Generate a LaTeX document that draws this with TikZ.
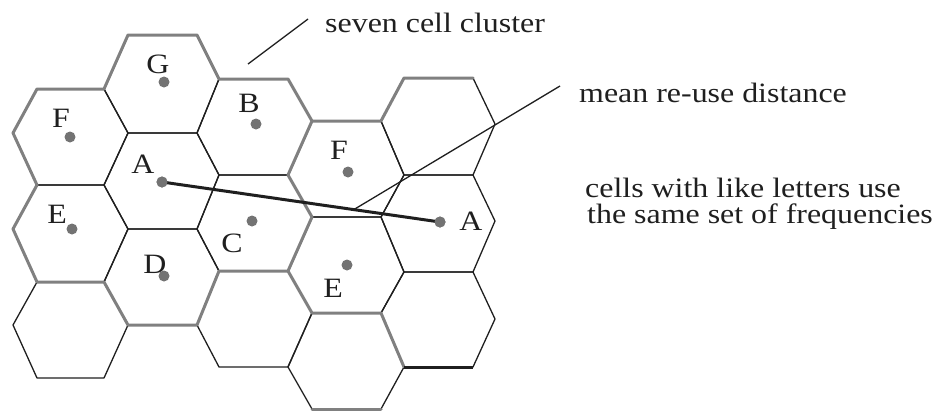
\documentclass[tikz,border=0pt]{standalone}
\usepackage{fontspec}
\setmainfont{Liberation Serif}
\usetikzlibrary{calc}
\begin{document}
\begin{tikzpicture}[x=1pt,y=-1pt,
  cell/.style={draw=black!88, line width=1.3pt, line join=round},
  rim/.style={draw=black!50, line width=3pt, line join=round, line cap=round},
  dotmark/.style={circle, fill=black!55, draw=none, inner sep=0pt, minimum size=11pt},
  lbl/.style={font=\fontsize{28}{30}\selectfont, text=black!88, inner sep=0pt, anchor=base},
  txt/.style={font=\fontsize{28}{30}\selectfont, text=black!88, inner sep=0pt, anchor=base west},
  ptr/.style={draw=black!88, line width=1.3pt},
  dist/.style={draw=black!88, line width=3pt, line cap=round}]
\useasboundingbox (0,0) rectangle (936,410);

% ---- cells (black outlines) ----
\draw[cell] (37,89)--(104,89)--(128,133)--(104,185)--(37,185)--(13,133)--cycle;
\draw[cell] (37,185)--(104,185)--(128,229)--(104,282)--(37,282)--(13,229)--cycle;
\draw[cell] (37,282)--(104,282)--(128,325)--(104,378)--(37,378)--(13,325)--cycle;
\draw[cell] (128,35)--(197,35)--(219,79)--(197,133)--(128,133)--(104,89)--cycle;
\draw[cell] (128,133)--(197,133)--(219,175)--(197,229)--(128,229)--(104,185)--cycle;
\draw[cell] (128,229)--(197,229)--(219,271)--(197,325)--(128,325)--(104,282)--cycle;
\draw[cell] (219,79)--(288,79)--(312,121)--(288,175)--(219,175)--(197,133)--cycle;
\draw[cell] (219,175)--(288,175)--(312,217)--(288,271)--(219,271)--(197,229)--cycle;
\draw[cell] (219,271)--(288,271)--(312,313)--(288,367)--(219,367)--(197,325)--cycle;
\draw[cell] (312,121)--(381,121)--(404,175)--(381,217)--(312,217)--(288,175)--cycle;
\draw[cell] (312,217)--(381,217)--(404,272)--(381,313)--(312,313)--(288,271)--cycle;
\draw[cell] (312,313)--(381,313)--(404,367)--(381,409)--(312,409)--(288,367)--cycle;
\draw[cell] (404,78)--(473,78)--(495,124)--(473,175)--(404,175)--(381,121)--cycle;
\draw[cell] (404,175)--(473,175)--(495,221)--(473,272)--(404,272)--(381,217)--cycle;
\draw[cell] (404,272)--(473,272)--(495,319)--(473,367)--(404,367)--(381,313)--cycle;

% ---- cluster outlines (grey) ----
\draw[rim] (13,133)--(37,89)--(104,89)--(128,35)--(197,35)--(219,79)--(288,79)--(312,121)
  --(288,175)--(312,217)--(288,271)--(219,271)--(197,325)--(128,325)--(104,282)--(37,282)
  --(13,229)--(37,185)--cycle;
\draw[rim] (312,121)--(381,121)--(404,78)--(473,78);
\draw[rim] (288,271)--(312,313)--(381,313)--(404,367);
\draw[rim] (312,409)--(381,409);
\draw[draw=black!88, line width=3pt] (404,367)--(473,367);

% ---- re-use distance ----
\node[dotmark] (dA1) at (162,182) {};
\node[dotmark] (dA2) at (440,222) {};
\draw[dist] (dA1.center)--(dA2.center);
\node[dotmark] at (dA1) {};
\node[dotmark] at (dA2) {};

% ---- other centre dots ----
\node[dotmark] (dG)  at (164,82)  {};
\node[dotmark] (dF1) at (70,137)  {};
\node[dotmark] (dB)  at (256,124) {};
\node[dotmark] (dE1) at (72,229)  {};
\node[dotmark] (dD)  at (164,276) {};
\node[dotmark] (dC)  at (252,221) {};
\node[dotmark] (dF2) at (348,172) {};
\node[dotmark] (dE2) at (347,265) {};

% ---- cell letters ----
\node[lbl] (lG)  at (158,73)  {\scalebox{1.14}[1]{G}};
\node[lbl] (lF1) at (61,127)  {\scalebox{1.14}[1]{F}};
\node[lbl] (lB)  at (249,112) {\scalebox{1.14}[1]{B}};
\node[lbl] (lA1) at (143,173) {\scalebox{1.14}[1]{A}};
\node[lbl] (lE1) at (57,223)  {\scalebox{1.14}[1]{E}};
\node[lbl] (lD)  at (155,273) {\scalebox{1.14}[1]{D}};
\node[lbl] (lC)  at (232,252) {\scalebox{1.14}[1]{C}};
\node[lbl] (lF2) at (339,159) {\scalebox{1.14}[1]{F}};
\node[lbl] (lA2) at (471,230) {\scalebox{1.14}[1]{A}};
\node[lbl] (lE2) at (333,297) {\scalebox{1.14}[1]{E}};

% ---- annotations ----
\node[txt] (tclu) at (325,32)  {\scalebox{1.14}[1]{seven cell cluster}};
\node[txt] (tmean) at (579,102) {\scalebox{1.14}[1]{mean re-use distance}};
\node[txt] (tlike1) at (585,197) {\scalebox{1.14}[1]{cells with like letters use}};
\node[txt] (tlike2) at (587,223) {\scalebox{1.14}[1]{the same set of frequencies}};

\coordinate (cluA) at (248,64);
\coordinate (cluB) at (308,19);
\draw[ptr] (cluA)--(cluB);
\coordinate (meanA) at (560,86);
\coordinate (meanB) at ($(dA1)!0.69!(dA2)$);
\draw[ptr] (meanA)--(meanB);
\end{tikzpicture}
\end{document}
